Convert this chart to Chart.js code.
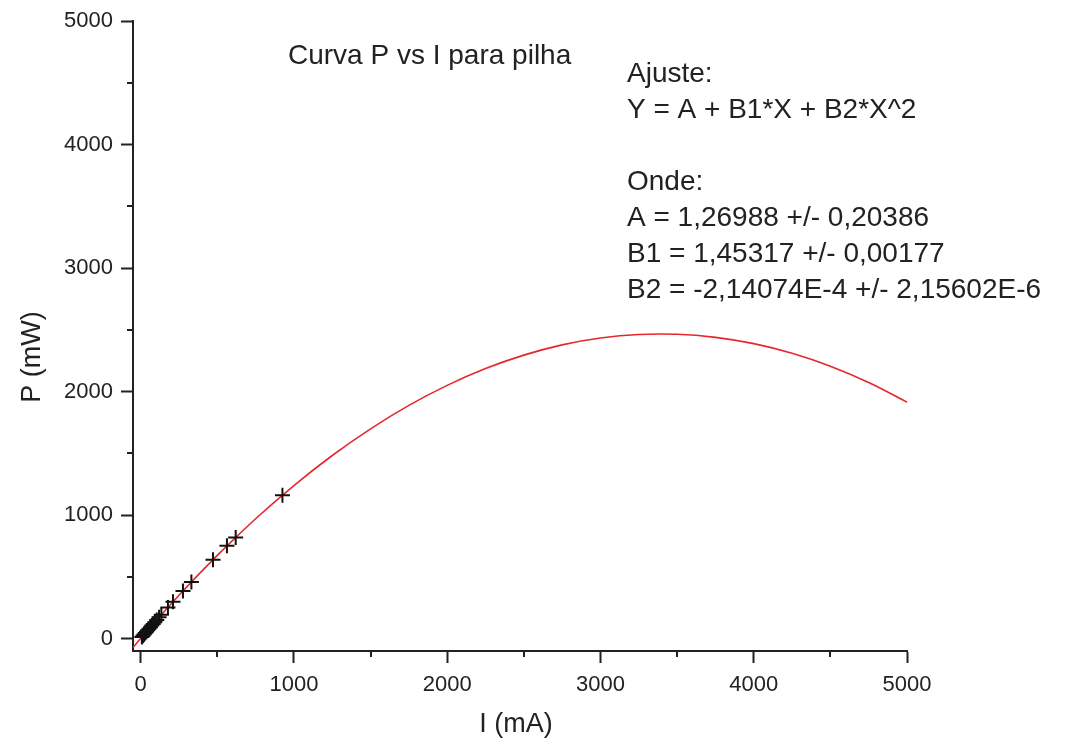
<!DOCTYPE html>
<html>
<head>
<meta charset="utf-8">
<script src="https://cdn.jsdelivr.net/npm/chart.js@4.4.1/dist/chart.umd.min.js"></script>
<style>
  html, body { margin: 0; padding: 0; background: #fff; }
  #wrap { width: 1066px; height: 742px; }
</style>
</head>
<body>
<div id="wrap"><canvas id="pvsi"></canvas></div>
<script>
// medidas (pontos pretos)
const medI = [8, 15, 22, 30, 38, 46, 55, 64, 73, 82, 92, 105, 120, 135, 178, 211, 276, 331, 472, 563, 620, 925];
const medP = [13, 23, 33, 45, 56, 68, 80, 93, 106, 119, 133, 152, 173, 193, 253, 298, 386, 459, 639, 752, 819, 1162];

// curva de ajuste (vermelha)
const fitI = [-50, 0, 250, 500, 750, 1000, 1250, 1500, 1750, 2000, 2250, 2500, 2750, 3000, 3250, 3500, 3750, 4000, 4250, 4500, 4750, 5000];
const fitP = [-72, 1, 351, 674, 971, 1240, 1483, 1699, 1889, 2051, 2187, 2296, 2379, 2434, 2463, 2465, 2440, 2389, 2311, 2206, 2074, 1915];

// marcas dos eixos
const majorTicks = [0, 1000, 2000, 3000, 4000, 5000];
const minorTicks = [500, 1500, 2500, 3500, 4500];

const titulo = 'Curva P vs I para pilha';
const ajuste = ['Ajuste:', 'Y = A + B1*X + B2*X^2', '', 'Onde:', 'A = 1,26988 +/- 0,20386', 'B1 = 1,45317 +/- 0,00177', 'B2 = -2,14074E-4 +/- 2,15602E-6'];
const tituloX = 'I (mA)';
const tituloY = 'P (mW)';

const FONT = 'Liberation Sans, Arial, sans-serif';
const INK = '#222';

// tracinhos menores e textos do grafico
const extras = {
    id: 'extras',
    afterDraw(chart) {
        const c = chart.ctx;
        const x = chart.scales.x, y = chart.scales.y;
        c.save();
        c.strokeStyle = INK;
        c.lineWidth = 2;
        c.beginPath();
        minorTicks.forEach(v => {
            const px = Math.round(x.getPixelForValue(v));
            c.moveTo(px, x.top); c.lineTo(px, x.top + 6);
            const py = Math.round(y.getPixelForValue(v));
            c.moveTo(y.right, py); c.lineTo(y.right - 6, py);
        });
        c.stroke();

        c.fillStyle = INK;
        c.textBaseline = 'alphabetic';
        c.textAlign = 'left';
        c.font = '28px ' + FONT;
        c.fillText(titulo, 288, 64);
        ajuste.forEach((t, i) => { if (t) c.fillText(t, 627, 82 + i * 36); });

        c.font = '27px ' + FONT;
        c.textAlign = 'center';
        c.textBaseline = 'middle';
        c.fillText(tituloX, 516, 725);
        c.translate(33, 357);
        c.rotate(-Math.PI / 2);
        c.fillText(tituloY, 0, 0);
        c.restore();
    }
};

const tickFont = { family: FONT, size: 22 };
const setTicks = s => { s.ticks = majorTicks.map(v => ({ value: v })); };

new Chart(document.getElementById('pvsi'), {
    type: 'scatter',
    data: {
        datasets: [
            {
                label: 'ajuste',
                data: fitI.map((v, i) => ({ x: v, y: fitP[i] })),
                showLine: true,
                borderColor: '#e8262b',
                borderWidth: 1.6,
                pointRadius: 0,
                tension: 0.4,
                order: 2
            },
            {
                label: 'medidas',
                data: medI.map((v, i) => ({ x: v, y: medP[i] })),
                pointStyle: 'cross',
                pointRadius: 7.5,
                borderColor: '#111',
                borderWidth: 2,
                order: 1
            }
        ]
    },
    options: {
        responsive: true,
        maintainAspectRatio: false,
        animation: false,
        layout: { padding: { top: 20, right: 159, bottom: 0, left: 0 } },
        plugins: { legend: { display: false }, tooltip: { enabled: false } },
        scales: {
            x: {
                type: 'linear',
                min: -50, max: 5000,
                afterFit: s => { s.height = 91; },
                afterBuildTicks: setTicks,
                ticks: { color: INK, font: tickFont, padding: 9, maxRotation: 0, callback: v => String(v) },
                grid: { drawOnChartArea: false, tickLength: 12, tickWidth: 2, tickColor: INK },
                border: { color: INK, width: 2 }
            },
            y: {
                type: 'linear',
                min: -100, max: 5000,
                afterFit: s => { s.width = 133; },
                afterBuildTicks: setTicks,
                ticks: { color: INK, font: tickFont, padding: 8, callback: v => String(v) },
                grid: { drawOnChartArea: false, tickLength: 12, tickWidth: 2, tickColor: INK },
                border: { color: INK, width: 2 }
            }
        }
    },
    plugins: [extras]
});
</script>
</body>
</html>
